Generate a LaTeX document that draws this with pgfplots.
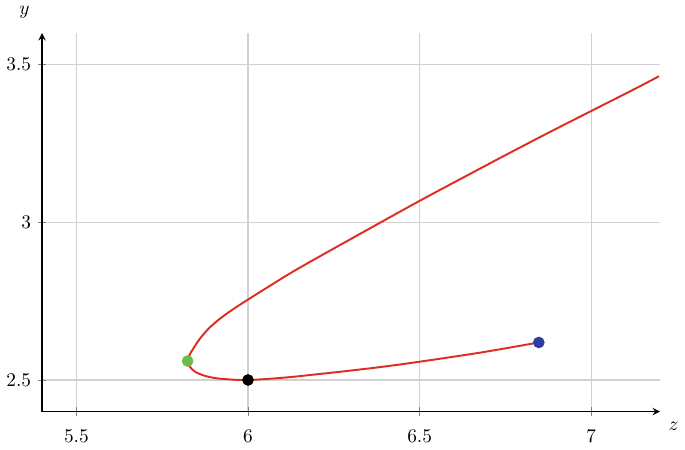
\documentclass[border=0pt]{standalone}
\usepackage{pgfplots}
\pgfplotsset{compat=1.18}
\definecolor{curvered}{RGB}{222,45,32}
\definecolor{ptgreen}{RGB}{104,192,72}
\definecolor{ptblue}{RGB}{44,62,160}
\begin{document}
\begin{tikzpicture}
\begin{axis}[scale only axis, width=320pt, height=196pt,
  axis lines=left, axis line style={line width=0.7pt},
  xmin=5.4, xmax=7.2, ymin=2.4, ymax=3.6,
  xtick={5.5,6,6.5,7}, ytick={2.5,3,3.5},
  xticklabel style={yshift=-4pt},
  grid=major, grid style={gray!35, line width=0.6pt},
  xlabel={$z$}, ylabel={$y$},
  xlabel style={at={(axis description cs:1,0)}, anchor=north west, xshift=1pt, yshift=-2pt},
  ylabel style={at={(axis description cs:0,1)}, anchor=south east, rotate=-90, xshift=-3pt, yshift=4pt},
  ]
\addplot[curvered, line width=1pt, smooth, tension=0.6] coordinates {
  (7.197,3.463) (7.134,3.427) (7.0,3.353) (6.877,3.285) (6.75,3.213)
  (6.634,3.146) (6.5,3.068) (6.344,2.974) (6.149,2.855) (6.060,2.796)
  (6.0,2.755) (5.963,2.729) (5.925,2.700) (5.890,2.668) (5.862,2.634)
  (5.842,2.602) (5.829,2.578) (5.824,2.560) (5.830,2.543) (5.846,2.526)
  (5.872,2.514) (5.905,2.506) (5.944,2.502) (6.0,2.500) (6.1,2.507) (6.2,2.518)
  (6.3,2.530) (6.4,2.543) (6.5,2.558) (6.6,2.574) (6.7,2.591) (6.847,2.619)
};
\addplot[only marks, mark=*, mark size=2.8pt, ptgreen] coordinates {(5.824,2.560)};
\addplot[only marks, mark=*, mark size=2.8pt, black] coordinates {(6.0,2.500)};
\addplot[only marks, mark=*, mark size=2.8pt, ptblue] coordinates {(6.847,2.619)};
\end{axis}
\end{tikzpicture}
\end{document}
